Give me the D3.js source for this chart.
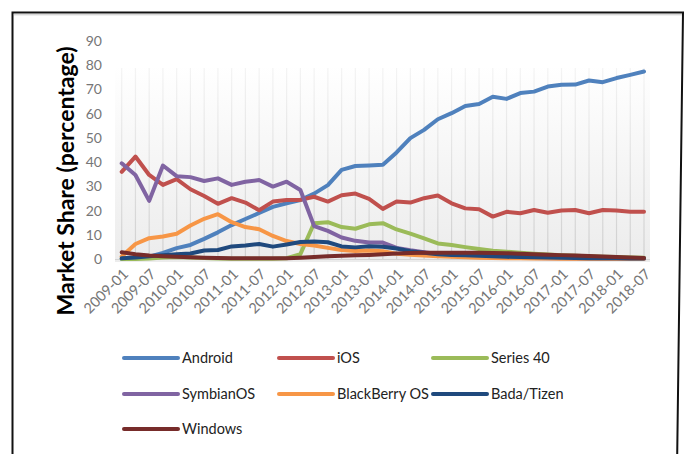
<!DOCTYPE html>
<html>
<head>
<meta charset="utf-8">
<script src="https://cdn.jsdelivr.net/npm/d3@7/dist/d3.min.js"></script>
<style>
  html, body { margin: 0; padding: 0; background: #fff; }
  svg { display: block; }
</style>
</head>
<body>
<svg id="chart" width="688" height="454"></svg>
<script>
const categories = [
  "2009-01","2009-04","2009-07","2009-10","2010-01","2010-04","2010-07","2010-10",
  "2011-01","2011-04","2011-07","2011-10","2012-01","2012-04","2012-07","2012-10",
  "2013-01","2013-04","2013-07","2013-10","2014-01","2014-04","2014-07","2014-10",
  "2015-01","2015-04","2015-07","2015-10","2016-01","2016-04","2016-07","2016-10",
  "2017-01","2017-04","2017-07","2017-10","2018-01","2018-04","2018-07"
];
const xTickLabels = categories.filter((c, i) => i % 2 === 0);
const yTickValues = [0, 10, 20, 30, 40, 50, 60, 70, 80, 90];

const android = [0, 0.3, 1, 2.5, 4.5, 5.8, 8.3, 11, 14, 16.5, 19, 21.5, 23, 24.3, 27, 30.5, 36.8, 38.4, 38.6, 38.9, 44, 49.9, 53.3, 57.7, 60.2, 63.2, 64, 67, 66.1, 68.5, 69.1, 71.2, 71.9, 72, 73.7, 73, 74.7, 76, 77.4];
const ios = [36, 42.3, 34.7, 30.6, 33, 28.8, 26, 22.8, 25.1, 23.3, 20.1, 23.7, 24.4, 24.4, 25.7, 23.7, 26.3, 27, 24.8, 20.7, 23.7, 23.3, 25.1, 26.2, 23, 20.9, 20.5, 17.5, 19.5, 18.9, 20.2, 19.1, 20, 20.2, 18.9, 20.2, 20, 19.5, 19.5];
const series40 = [0, 0, 0.2, 0.6, 0.8, 0.6, 0.4, 0.2, 0.1, 0.1, 0.1, 0.1, 0.3, 2, 14.8, 15.2, 13.2, 12.5, 14.3, 14.8, 12.2, 10.5, 8.5, 6.4, 5.8, 4.9, 4.1, 3.4, 3, 2.6, 2.2, 1.9, 1.6, 1.3, 1.1, 0.9, 0.8, 0.6, 0.5];
const symbian = [39.5, 34.7, 24, 38.6, 34.2, 33.8, 32.2, 33.3, 30.6, 31.9, 32.6, 29.9, 31.9, 28.5, 13.6, 11.6, 8.9, 7.5, 6.8, 6.8, 4.6, 3.6, 2.8, 2.1, 1.6, 1.2, 1, 0.8, 0.6, 0.5, 0.4, 0.3, 0.3, 0.2, 0.2, 0.1, 0.1, 0.1, 0.1];
const blackberry = [1, 6.2, 8.6, 9.3, 10.4, 13.8, 16.6, 18.5, 15.2, 13.2, 12.3, 9.5, 7.4, 6.2, 5.6, 4.6, 3.7, 3.3, 3.5, 3.2, 2.2, 1.8, 1.4, 1.1, 0.9, 0.7, 0.5, 0.4, 0.3, 0.3, 0.2, 0.2, 0.1, 0.1, 0.1, 0.1, 0.1, 0.1, 0.1];
const bada = [0.3, 0.6, 1.1, 1.6, 2, 2.3, 3.5, 3.7, 5.2, 5.6, 6.2, 5.1, 6, 7, 7.2, 6.9, 5.2, 4.8, 5.3, 5.1, 4.3, 3.2, 2.6, 2, 1.7, 1.5, 1.3, 1.1, 0.9, 0.8, 0.7, 0.6, 0.5, 0.4, 0.3, 0.3, 0.3, 0.2, 0.2];
const windows = [2.8, 2, 1.4, 1.1, 0.9, 0.7, 0.5, 0.4, 0.3, 0.3, 0.3, 0.3, 0.3, 0.5, 0.8, 1.1, 1.3, 1.5, 1.7, 2, 2.3, 2.5, 2.6, 2.6, 2.6, 2.6, 2.6, 2.5, 2.4, 2.2, 2, 1.8, 1.6, 1.4, 1.2, 1, 0.8, 0.6, 0.4];

const seriesNames = ["Android", "iOS", "Series 40", "SymbianOS", "BlackBerry OS", "Bada/Tizen", "Windows"];
const seriesValues = [android, ios, series40, symbian, blackberry, bada, windows];
const seriesColors = ["#4F81BD", "#C0504D", "#9BBB59", "#8064A2", "#F79646", "#1F497D", "#772C2A"];

const svg = d3.select("#chart");
const FONT = "Lato, 'Open Sans', sans-serif";

// frame
svg.append("path")
  .attr("d", "M12.5,470 L12.5,12.5 L683,12.5 L677,470")
  .attr("fill", "none").attr("stroke", "#111").attr("stroke-width", 2);
svg.append("line").attr("x1", 14).attr("x2", 682).attr("y1", 14.8).attr("y2", 14.8)
  .attr("stroke", "#c8c8c8").attr("stroke-width", 1);

const x = d3.scalePoint().domain(categories).range([121.7, 644]);
const y = d3.scaleLinear().domain([0, 90]).range([259, 41]);

const defs = svg.append("defs");
const bg = defs.append("linearGradient").attr("id", "bg").attr("x1", 0).attr("x2", 0).attr("y1", 0).attr("y2", 1);
bg.append("stop").attr("offset", "0%").attr("stop-color", "#ffffff");
bg.append("stop").attr("offset", "100%").attr("stop-color", "#ececec");
const gg = defs.append("linearGradient").attr("id", "gridgrad").attr("gradientUnits", "userSpaceOnUse")
  .attr("x1", 0).attr("x2", 0).attr("y1", 66).attr("y2", 259);
gg.append("stop").attr("offset", "0%").attr("stop-color", "#f4f4f4");
gg.append("stop").attr("offset", "100%").attr("stop-color", "#cfcfcf");

// plot background
svg.append("rect").attr("x", 115).attr("y", 66).attr("width", 535).attr("height", 196)
  .attr("fill", "url(#bg)");

// vertical gridlines
svg.append("g").selectAll("line").data(categories).join("line")
  .attr("x1", d => x(d)).attr("x2", d => x(d))
  .attr("y1", 68).attr("y2", y(0))
  .attr("stroke", "url(#gridgrad)").attr("stroke-width", 1.2);

// baseline
svg.append("line").attr("x1", 115).attr("x2", 650).attr("y1", y(0) + 0.5).attr("y2", y(0) + 0.5)
  .attr("stroke", "#d4d4d4").attr("stroke-width", 1);

// y axis
const yAxis = svg.append("g").attr("transform", "translate(106,0)")
  .call(d3.axisLeft(y).tickValues(yTickValues).tickSize(0).tickPadding(4));
yAxis.select(".domain").remove();
yAxis.selectAll("text").attr("font-family", FONT).attr("font-size", 14).attr("fill", "#767676");

// x axis
const xAxis = svg.append("g").attr("transform", `translate(0,${y(0)})`)
  .call(d3.axisBottom(x).tickValues(xTickLabels).tickSize(0).tickPadding(0));
xAxis.select(".domain").remove();
xAxis.selectAll("text")
  .attr("font-family", FONT).attr("font-size", 14.5).attr("fill", "#767676")
  .attr("text-anchor", "end").attr("dy", null).attr("y", 0)
  .attr("transform", "translate(7,16) rotate(-45)");

// y axis title
svg.append("text")
  .attr("transform", "translate(74,181) rotate(-90)")
  .attr("text-anchor", "middle")
  .attr("font-family", FONT).attr("font-weight", "bold").attr("font-size", 23).attr("fill", "#000")
  .text("Market Share (percentage)");

// lines
const line = d3.line().x((d, i) => x(categories[i])).y(d => y(d));
svg.append("g").selectAll("path").data(seriesValues).join("path")
  .attr("d", d => line(d))
  .attr("fill", "none")
  .attr("stroke", (d, i) => seriesColors[i])
  .attr("stroke-width", 4)
  .attr("stroke-linejoin", "round").attr("stroke-linecap", "round");

// legend
const colX = [124, 279, 433];
const rowY = [358, 394, 429];
const leg = svg.append("g").selectAll("g").data(seriesNames).join("g")
  .attr("transform", (d, i) => `translate(${colX[i % 3]},${rowY[Math.floor(i / 3)]})`);
leg.append("line").attr("x1", 0).attr("x2", 54).attr("y1", 0).attr("y2", 0)
  .attr("stroke", (d, i) => seriesColors[i]).attr("stroke-width", 4).attr("stroke-linecap", "round");
leg.append("text").attr("x", 58).attr("y", 5)
  .attr("font-family", FONT).attr("font-size", 14.5).attr("fill", "#222")
  .text(d => d);
</script>
</body>
</html>
